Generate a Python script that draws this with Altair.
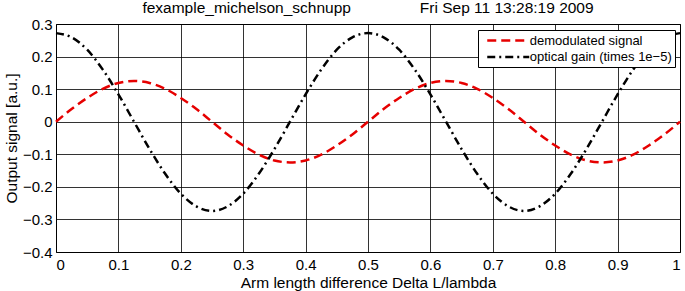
import altair as alt
import pandas as pd

x_vals = [0.000, 0.025, 0.050, 0.075, 0.100, 0.125, 0.150, 0.175, 0.200, 0.225,
          0.250, 0.275, 0.300, 0.325, 0.350, 0.375, 0.400, 0.425, 0.450, 0.475,
          0.500, 0.525, 0.550, 0.575, 0.600, 0.625, 0.650, 0.675, 0.700, 0.725,
          0.750, 0.775, 0.800, 0.825, 0.850, 0.875, 0.900, 0.925, 0.950, 0.975,
          1.000]

demod = [0.000, 0.039, 0.073, 0.101, 0.119, 0.125, 0.119, 0.101, 0.073, 0.039,
         0.000, -0.039, -0.073, -0.101, -0.119, -0.125, -0.119, -0.101, -0.073, -0.039,
         0.000, 0.039, 0.073, 0.101, 0.119, 0.125, 0.119, 0.101, 0.073, 0.039,
         0.000, -0.039, -0.073, -0.101, -0.119, -0.125, -0.119, -0.101, -0.073, -0.039,
         0.000]

optgain = [0.272, 0.259, 0.221, 0.160, 0.084, 0.000, -0.084, -0.160, -0.221, -0.260,
           -0.274, -0.260, -0.221, -0.160, -0.084, 0.000, 0.084, 0.160, 0.221, 0.259,
           0.272, 0.259, 0.221, 0.160, 0.084, 0.000, -0.084, -0.160, -0.221, -0.260,
           -0.274, -0.260, -0.221, -0.160, -0.084, 0.000, 0.084, 0.160, 0.221, 0.259,
           0.272]

series_names = ["demodulated signal", "optical gain (times 1e\u22125)"]
series_colors = ["#e60000", "#000000"]
series_dash = [[9, 5], [8, 4, 2, 4]]

x_ticks = [0, 0.1, 0.2, 0.3, 0.4, 0.5, 0.6, 0.7, 0.8, 0.9, 1]
y_ticks = [-0.4, -0.3, -0.2, -0.1, 0, 0.1, 0.2, 0.3]

title_text = "fexample_michelson_schnupp" + "\u00a0" * 16 + "Fri Sep 11 13:28:19 2009"

rows = []
for xv, a, b in zip(x_vals, demod, optgain):
    rows.append({"x": xv, "y": a, "series": series_names[0]})
    rows.append({"x": xv, "y": b, "series": series_names[1]})
df = pd.DataFrame(rows)

FONT = "Liberation Sans"

chart = alt.Chart(df).mark_line(strokeWidth=2.5, interpolate="monotone").encode(
    x=alt.X("x:Q",
            scale=alt.Scale(domain=[0, 1], nice=False),
            axis=alt.Axis(values=x_ticks, format=".1~f",
                          title="Arm length difference Delta L/lambda",
                          titlePadding=3, labelPadding=5)),
    y=alt.Y("y:Q",
            scale=alt.Scale(domain=[-0.4, 0.3], nice=False),
            axis=alt.Axis(values=y_ticks, format=".1~f",
                          title="Output signal [a.u.]",
                          titlePadding=3, labelPadding=4)),
    color=alt.Color("series:N",
                    scale=alt.Scale(domain=series_names, range=series_colors),
                    legend=alt.Legend(title=None, orient="none",
                                      legendX=422, legendY=6,
                                      symbolType="M-3.5,0H3.5",
                                      symbolSize=144,
                                      symbolStrokeWidth=2.5,
                                      symbolOffset=19.75,
                                      labelOffset=14,
                                      labelFontSize=13,
                                      labelFont=FONT,
                                      labelColor="#000",
                                      padding=3,
                                      rowPadding=1.5,
                                      strokeColor="#000",
                                      fillColor="#fff",
                                      offset=0)),
    strokeDash=alt.StrokeDash("series:N",
                              scale=alt.Scale(domain=series_names, range=series_dash),
                              legend=None),
).properties(
    width=624,
    height=228,
    title=alt.TitleParams(title_text, font=FONT, fontSize=15.5, fontWeight="normal",
                          color="#000", anchor="middle", offset=2, dy=13,
                          baseline="alphabetic"),
    autosize=alt.AutoSizeParams(type="none"),
    padding={"left": 56, "top": 24, "right": 5, "bottom": 39},
    background="#ffffff",
).configure_view(
    stroke="#000", strokeWidth=1
).configure_axis(
    labelFont=FONT, labelFontSize=15, labelColor="#000",
    titleFont=FONT, titleFontSize=15.5, titleFontWeight="normal", titleColor="#000",
    grid=True, gridColor="#000", gridOpacity=0.8, gridWidth=1,
    ticks=False, domain=False,
)

chart.save("out.html", embed_options={"renderer": "svg", "actions": False})
